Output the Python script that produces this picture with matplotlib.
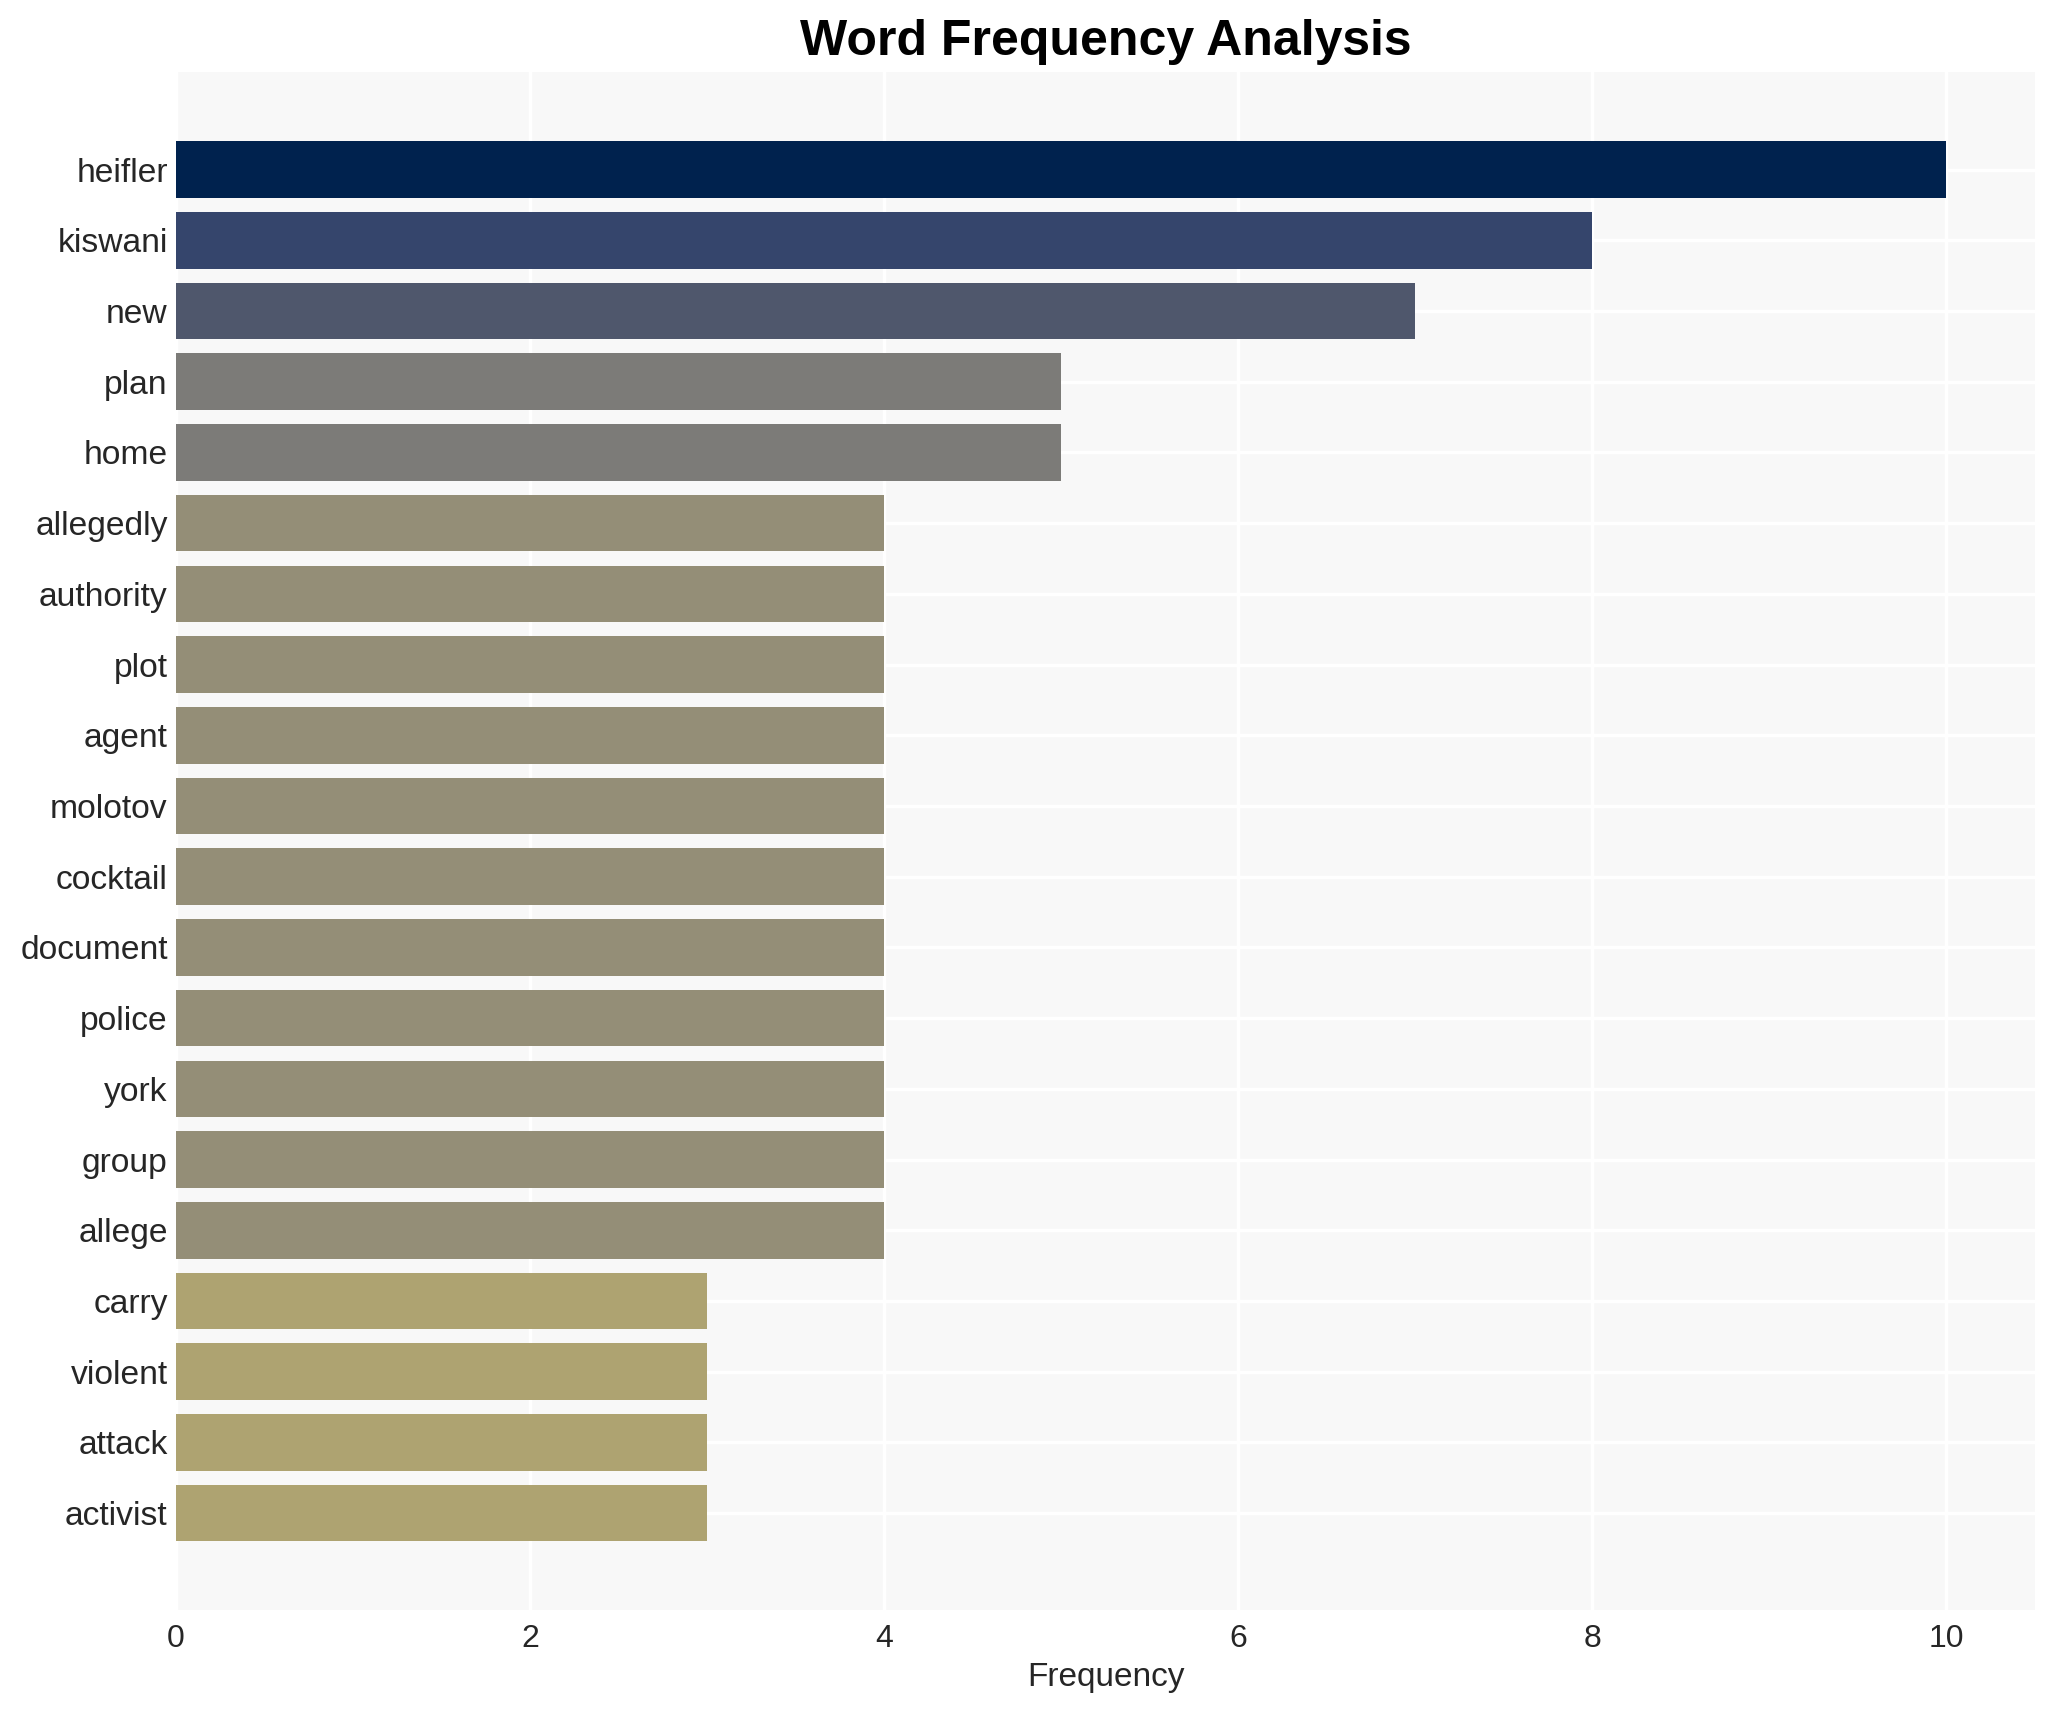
import numpy as np
import matplotlib
matplotlib.use("Agg")
import matplotlib.pyplot as plt

plt.rcParams['font.family'] = ['Liberation Sans', 'DejaVu Sans']

# -----------------------------
# DATA
# -----------------------------
words = ["heifler", "kiswani", "new", "plan", "home", "allegedly", "authority",
         "plot", "agent", "molotov", "cocktail", "document", "police", "york",
         "group", "allege", "carry", "violent", "attack", "activist"]
counts = [10, 8, 7, 5, 5, 4, 4, 4, 4, 4, 4, 4, 4, 4, 4, 4, 3, 3, 3, 3]

# -----------------------------
# PLOT
# -----------------------------
fig = plt.figure(figsize=(10.28, 8.55), dpi=200)
ax = fig.add_axes([176 / 2056, 1 - 1610 / 1710, (2035 - 176) / 2056, (1610 - 72) / 1710])

cmap = plt.get_cmap("cividis_r")
norm = plt.Normalize(0, max(counts))
colors = [cmap(norm(c)) for c in counts]

y = np.arange(len(words))
ax.barh(y, counts, height=0.8, color=colors, zorder=2)

ax.set_facecolor("#f8f8f8")
ax.grid(True, color="white", linewidth=1.2, zorder=0)
ax.set_axisbelow(True)
for s in ax.spines.values():
    s.set_visible(False)

ax.set_yticks(y)
ax.set_yticklabels(words)
ax.set_ylim(len(words) - 1 + 1.37, -1.38)
ax.set_xlim(0, 10.5)
ax.set_xticks([0, 2, 4, 6, 8, 10])
ax.tick_params(axis="both", length=0, labelcolor="#262626")
ax.tick_params(axis="y", pad=3, labelsize=12.1)
ax.tick_params(axis="x", pad=5, labelsize=11.5)

ax.set_xlabel("Frequency", fontsize=12, color="#262626", labelpad=3)
ax.set_title("Word Frequency Analysis", fontsize=18, fontweight="bold", pad=6)

plt.savefig("out.png", dpi=200)
plt.close()
